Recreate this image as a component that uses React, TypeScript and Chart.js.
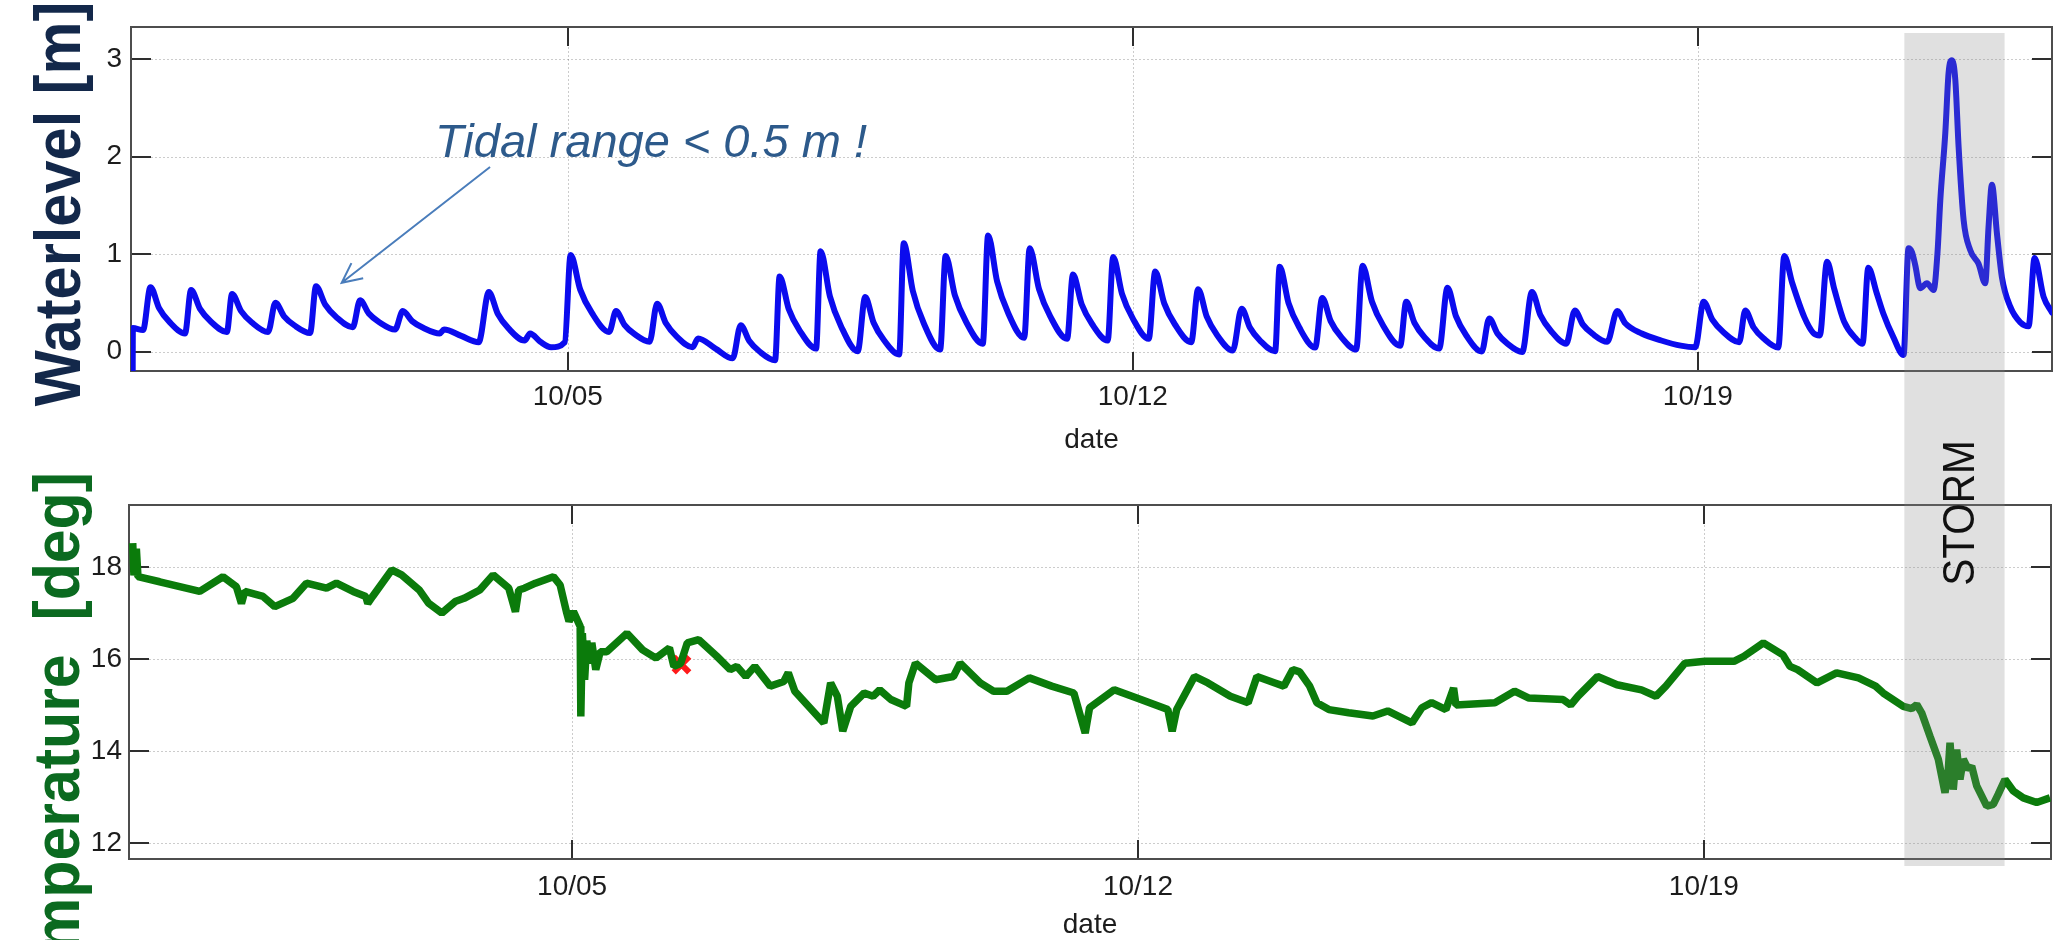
import React, { useEffect, useRef } from "react";
import { Chart, registerables } from "chart.js";

Chart.register(...registerables);

// ---------------- data ----------------
const dateTickValues = [5, 12, 19];
const dateTickLabels = ["10/05", "10/12", "10/19"];
const waterTickValues = [0, 1, 2, 3];
const tempTickValues = [12, 14, 16, 18];

// days of October (fractional), water level in m
const waterDays = [
  -0.39, -0.388, -0.262, -0.17, -0.063, 0.065, 0.258, 0.333, 0.444, 0.577, 0.776, 0.841, 0.953, 1.086,
  1.287, 1.378, 1.485, 1.614, 1.807, 1.881, 1.995, 2.131, 2.336, 2.427, 2.535, 2.665, 2.86, 2.956,
  3.071, 3.208, 3.414, 3.467, 3.68, 3.896, 4.022, 4.133, 4.266, 4.465, 4.533, 4.66, 4.793, 4.963,
  5.035, 5.154, 5.297, 5.512, 5.598, 5.702, 5.826, 6.013, 6.106, 6.216, 6.347, 6.545, 6.614, 6.83,
  7.043, 7.142, 7.249, 7.376, 7.568, 7.624, 7.737, 7.873, 8.076, 8.132, 8.247, 8.385, 8.592, 8.684,
  8.789, 8.916, 9.105, 9.162, 9.275, 9.41, 9.613, 9.681, 9.796, 9.934, 10.141, 10.207, 10.319, 10.453,
  10.654, 10.722, 10.838, 10.977, 11.186, 11.258, 11.366, 11.495, 11.689, 11.756, 11.866, 11.999,
  12.197, 12.277, 12.389, 12.522, 12.723, 12.809, 12.916, 13.045, 13.238, 13.348, 13.452, 13.576,
  13.763, 13.819, 13.929, 14.061, 14.259, 14.346, 14.451, 14.578, 14.767, 14.846, 14.963, 15.102,
  15.312, 15.387, 15.489, 15.611, 15.795, 15.898, 16.004, 16.131, 16.322, 16.415, 16.517, 16.64,
  16.824, 16.944, 17.05, 17.178, 17.369, 17.476, 17.576, 17.697, 17.877, 18.001, 18.1, 18.304,
  18.546, 18.788, 18.967, 19.071, 19.181, 19.314, 19.512, 19.587, 19.689, 19.812, 19.996, 20.07,
  20.17, 20.32, 20.43, 20.51, 20.6, 20.69, 20.81, 20.96, 21.04, 21.111, 21.215, 21.297, 21.42, 21.548,
  21.61, 21.652, 21.693, 21.755, 21.838, 21.92, 21.969, 22.003, 22.065, 22.106, 22.148, 22.189, 22.23,
  22.292, 22.374, 22.477, 22.56, 22.601, 22.643, 22.705, 22.767, 22.87, 22.994, 23.097, 23.171,
  23.283, 23.387,
];
const waterLevels = [
  -0.2, 0.24, 0.22, 0.66, 0.446, 0.304, 0.185, 0.63, 0.437, 0.308, 0.2, 0.59, 0.415, 0.298,
  0.2, 0.5, 0.361, 0.268, 0.19, 0.67, 0.481, 0.355, 0.25, 0.525, 0.39, 0.301, 0.226, 0.415,
  0.312, 0.243, 0.185, 0.225, 0.16, 0.096, 0.61, 0.386, 0.237, 0.113, 0.185, 0.1, 0.044, 0.096,
  0.99, 0.635, 0.398, 0.2, 0.415, 0.273, 0.179, 0.1, 0.49, 0.289, 0.156, 0.044, 0.134, 0.03,
  -0.07, 0.27, 0.108, 0.0, -0.09, 0.77, 0.437, 0.215, 0.03, 1.03, 0.568, 0.26, 0.003, 0.56,
  0.295, 0.118, -0.03, 1.11, 0.62, 0.29, 0.02, 0.98, 0.575, 0.305, 0.08, 1.19, 0.718, 0.4,
  0.14, 1.06, 0.64, 0.36, 0.13, 0.79, 0.485, 0.282, 0.113, 0.97, 0.592, 0.34,
  0.13, 0.82, 0.494, 0.277, 0.096, 0.64, 0.357, 0.168, 0.01, 0.44, 0.243, 0.112,
  0.003, 0.87, 0.497, 0.248, 0.04, 0.55, 0.312, 0.153, 0.02, 0.88, 0.511, 0.265,
  0.06, 0.51, 0.294, 0.15, 0.03, 0.655, 0.36, 0.164, 0.0, 0.34, 0.185, 0.081,
  -0.005, 0.61, 0.372, 0.213, 0.08, 0.42, 0.276, 0.18, 0.1, 0.415, 0.29, 0.185,
  0.113, 0.06, 0.044, 0.51, 0.324, 0.2, 0.096, 0.42, 0.249, 0.135, 0.04, 0.98,
  0.7, 0.35, 0.19, 0.165, 0.92, 0.64, 0.31, 0.13, 0.08, 0.86, 0.6, 0.39, 0.15, -0.035,
  1.06, 1.02, 0.885, 0.65, 0.7, 0.63, 1.02, 1.55, 2.24, 2.86, 2.99, 2.79, 2.1,
  1.35, 1.04, 0.9, 0.7, 1.28, 1.71, 1.21, 0.76, 0.46, 0.3, 0.26, 0.96,
  0.56, 0.4,
];

// days of October (fractional), temperature in deg
const tempDays = [
  -0.435, -0.42, -0.39, -0.37, -0.101, 0.394, 0.682, 0.848, 0.91, 0.951, 1.177, 1.322, 1.548, 1.714,
  1.962, 2.085, 2.291, 2.448, 2.473, 2.532, 2.769, 2.891, 3.111, 3.222, 3.388, 3.554, 3.664, 3.858,
  4.023, 4.217, 4.299, 4.34, 4.41, 4.547, 4.769, 4.852, 4.934, 4.962, 5.017, 5.1, 5.108, 5.127,
  5.155, 5.182, 5.21, 5.244, 5.293, 5.348, 5.429, 5.679, 5.872, 6.038, 6.204, 6.259, 6.342, 6.425,
  6.567, 6.79, 6.956, 7.038, 7.149, 7.26, 7.452, 7.619, 7.674, 7.755, 8.114, 8.198, 8.281, 8.348,
  8.447, 8.613, 8.723, 8.806, 8.943, 9.137, 9.166, 9.247, 9.496, 9.717, 9.8, 10.049, 10.214, 10.378,
  10.656, 10.932, 11.207, 11.347, 11.401, 11.706, 12.036, 12.369, 12.423, 12.479, 12.699, 12.865,
  13.142, 13.362, 13.471, 13.694, 13.805, 13.915, 14.0, 14.124, 14.213, 14.362, 14.607, 14.906,
  15.089, 15.389, 15.512, 15.632, 15.809, 15.904, 15.933, 16.415, 16.658, 16.836, 17.257, 17.352,
  17.442, 17.685, 17.925, 18.228, 18.407, 18.53, 18.766, 19.014, 19.372, 19.496, 19.736, 19.978,
  20.065, 20.159, 20.399, 20.642, 20.912, 21.124, 21.219, 21.467, 21.571, 21.633, 21.694, 21.797,
  21.9, 21.983, 22.024, 22.045, 22.085, 22.127, 22.168, 22.209, 22.271, 22.313, 22.375, 22.499,
  22.58, 22.642, 22.725, 22.828, 22.951, 23.117, 23.282,
];
const tempValues = [
  18.52, 17.82, 18.4, 17.79, 17.68, 17.47, 17.79, 17.57, 17.21, 17.47, 17.36, 17.14, 17.32, 17.65,
  17.54, 17.65, 17.47, 17.36, 17.21, 17.36, 17.94, 17.83, 17.5, 17.22, 17.0, 17.25, 17.32, 17.5,
  17.83, 17.54, 17.03, 17.5, 17.54, 17.65, 17.79, 17.61, 17.0, 16.82, 17.03, 16.71, 14.75, 16.56,
  15.55, 16.4, 15.9, 16.35, 15.77, 16.16, 16.16, 16.56, 16.2, 16.02, 16.24, 15.84, 15.9, 16.35,
  16.42, 16.06, 15.77, 15.84, 15.62, 15.84, 15.41, 15.51, 15.7, 15.3, 14.61, 15.48, 15.19, 14.43,
  14.97, 15.26, 15.19, 15.33, 15.12, 14.97, 15.48, 15.91, 15.55, 15.62, 15.91, 15.48, 15.3, 15.3,
  15.59, 15.41, 15.26, 14.39, 14.94, 15.33, 15.12, 14.9, 14.43, 14.9, 15.62, 15.48,
  15.19, 15.05, 15.62, 15.48, 15.41, 15.77, 15.72, 15.41, 15.05, 14.9, 14.83, 14.76,
  14.87, 14.61, 14.94, 15.05, 14.9, 15.37, 15.0, 15.05, 15.3, 15.15, 15.12, 15.0,
  15.19, 15.62, 15.44, 15.33, 15.19, 15.41, 15.91, 15.95, 15.95, 16.06, 16.35, 16.09,
  15.84, 15.77, 15.48, 15.7, 15.59, 15.41, 15.26, 14.97, 14.92, 15.01, 14.83, 14.32,
  13.82, 13.09, 13.6, 14.18, 13.16, 14.03, 13.38, 13.82, 13.6, 13.67, 13.24, 12.8,
  12.84, 13.06, 13.38, 13.13, 12.98, 12.88, 12.98,
];

const flaggedDays = [6.353];
const flaggedTemps = [15.88];

const stormStartDay = 21.48;
const stormEndDay = 22.72;

const waterTitle = "Waterlevel [m]";
const tempTitle = "Temperature  [deg]";
const dateTitle = "date";
const stormLabel = "STORM";
const tidalNote = "Tidal range < 0.5 m !";
const tidalNoteAt = [3.356, 2.0];
const tidalArrowFrom = [4.037, 1.893];
const tidalArrowTo = [2.199, 0.705];

// ---------------- styling helpers ----------------
const FONT = '"Liberation Sans", Arial, Helvetica, sans-serif';

const framePlugin = {
  id: "matlabFrame",
  beforeDatasetsDraw(chart: any) {
    const { ctx, chartArea: a, scales } = chart;
    const x = scales.x;
    const y = scales.y;
    ctx.save();
    // dotted grid
    ctx.strokeStyle = "rgba(0,0,0,0.2)";
    ctx.lineWidth = 1;
    ctx.setLineDash([2, 2]);
    y.ticks.forEach((t: any) => {
      const py = Math.round(y.getPixelForValue(t.value)) + 0.5;
      ctx.beginPath();
      ctx.moveTo(a.left, py);
      ctx.lineTo(a.right, py);
      ctx.stroke();
    });
    x.ticks.forEach((t: any) => {
      const px = Math.round(x.getPixelForValue(t.value)) + 0.5;
      ctx.beginPath();
      ctx.moveTo(px, a.top);
      ctx.lineTo(px, a.bottom);
      ctx.stroke();
    });
    ctx.setLineDash([]);
    // inward tick marks on all four sides
    ctx.strokeStyle = "#2e2e2e";
    ctx.lineWidth = 2;
    y.ticks.forEach((t: any) => {
      const py = Math.round(y.getPixelForValue(t.value));
      ctx.beginPath();
      ctx.moveTo(a.left, py);
      ctx.lineTo(a.left + 20, py);
      ctx.moveTo(a.right - 20, py);
      ctx.lineTo(a.right, py);
      ctx.stroke();
    });
    x.ticks.forEach((t: any) => {
      const px = Math.round(x.getPixelForValue(t.value));
      ctx.beginPath();
      ctx.moveTo(px, a.bottom);
      ctx.lineTo(px, a.bottom - 19);
      ctx.moveTo(px, a.top);
      ctx.lineTo(px, a.top + 19);
      ctx.stroke();
    });
    // box
    ctx.strokeStyle = "#4d4d4d";
    ctx.lineWidth = 2;
    ctx.strokeRect(a.left, a.top, a.right - a.left, a.bottom - a.top);
    ctx.restore();
  },
};

const waterNotesPlugin = {
  id: "waterNotes",
  afterDatasetsDraw(chart: any) {
    const { ctx, chartArea: a, scales } = chart;
    const x = scales.x;
    const y = scales.y;
    ctx.save();
    // y-axis title
    ctx.save();
    ctx.translate(a.left - 51, (a.top + a.bottom) / 2 + 5);
    ctx.rotate(-Math.PI / 2);
    ctx.scale(0.93, 1);
    ctx.font = `bold 64px ${FONT}`;
    ctx.fillStyle = "#13284a";
    ctx.textAlign = "center";
    ctx.textBaseline = "alphabetic";
    ctx.fillText(waterTitle, 0, 0);
    ctx.restore();
    // note text
    ctx.font = `italic 47px ${FONT}`;
    ctx.fillStyle = "#2d5a8b";
    ctx.textAlign = "left";
    ctx.textBaseline = "alphabetic";
    ctx.fillText(tidalNote, x.getPixelForValue(tidalNoteAt[0]), y.getPixelForValue(tidalNoteAt[1]));
    // arrow
    const x0 = x.getPixelForValue(tidalArrowFrom[0]);
    const y0 = y.getPixelForValue(tidalArrowFrom[1]);
    const x1 = x.getPixelForValue(tidalArrowTo[0]);
    const y1 = y.getPixelForValue(tidalArrowTo[1]);
    const ang = Math.atan2(y0 - y1, x0 - x1);
    ctx.strokeStyle = "#4a7dbb";
    ctx.lineWidth = 2;
    ctx.beginPath();
    ctx.moveTo(x0, y0);
    ctx.lineTo(x1, y1);
    const L = 22;
    const spread = 0.45;
    ctx.moveTo(x1 + L * Math.cos(ang - spread), y1 + L * Math.sin(ang - spread));
    ctx.lineTo(x1, y1);
    ctx.lineTo(x1 + L * Math.cos(ang + spread), y1 + L * Math.sin(ang + spread));
    ctx.stroke();
    ctx.restore();
  },
};

const tempNotesPlugin = {
  id: "tempNotes",
  afterDatasetsDraw(chart: any) {
    const { ctx, chartArea: a, scales } = chart;
    const x = scales.x;
    ctx.save();
    // y-axis title (runs off the bottom of the page)
    ctx.save();
    ctx.translate(a.left - 50, a.top - 33);
    ctx.rotate(-Math.PI / 2);
    ctx.scale(0.95, 1);
    ctx.font = `bold 64px ${FONT}`;
    ctx.fillStyle = "#0b6a20";
    ctx.textAlign = "right";
    ctx.textBaseline = "alphabetic";
    ctx.fillText(tempTitle, 0, 0);
    ctx.restore();
    // storm band across both panels
    const bx0 = x.getPixelForValue(stormStartDay);
    const bx1 = x.getPixelForValue(stormEndDay);
    ctx.fillStyle = "rgba(135,135,135,0.26)";
    ctx.fillRect(bx0, 33, bx1 - bx0, a.bottom + 7 - 33);
    // storm label
    ctx.save();
    ctx.translate((bx0 + bx1) / 2 + 20, a.top + 8);
    ctx.rotate(-Math.PI / 2);
    ctx.scale(0.9, 1);
    ctx.font = `45px ${FONT}`;
    ctx.fillStyle = "#111111";
    ctx.textAlign = "center";
    ctx.textBaseline = "alphabetic";
    ctx.fillText(stormLabel, 0, 0);
    ctx.restore();
    ctx.restore();
  },
};

const tickFont = { family: FONT, size: 28 };

function dateAxis(min: number, max: number, height: number, tickPad: number, titlePad: number) {
  return {
    type: "linear",
    min,
    max,
    afterBuildTicks: (s: any) => {
      s.ticks = dateTickValues.map((v) => ({ value: v }));
    },
    afterFit: (s: any) => {
      s.height = height;
    },
    ticks: {
      autoSkip: false,
      maxRotation: 0,
      padding: tickPad,
      font: tickFont,
      color: "#1c1c1c",
      callback: (v: any) => {
        const i = dateTickValues.indexOf(Number(v));
        return i >= 0 ? dateTickLabels[i] : "";
      },
    },
    grid: { display: false, drawTicks: false },
    border: { display: false },
    title: {
      display: true,
      text: dateTitle,
      color: "#1c1c1c",
      font: { family: FONT, size: 28, lineHeight: 1 },
      padding: { top: 0, bottom: titlePad },
    },
  };
}

function valueAxis(min: number, max: number, ticks: number[], width: number, pad: number) {
  return {
    type: "linear",
    min,
    max,
    afterBuildTicks: (s: any) => {
      s.ticks = ticks.map((v) => ({ value: v }));
    },
    afterFit: (s: any) => {
      s.width = width;
    },
    ticks: { padding: pad, font: tickFont, color: "#1c1c1c" },
    grid: { display: false, drawTicks: false },
    border: { display: false },
  };
}

export default function App() {
  const topRef = useRef<HTMLCanvasElement>(null);
  const botRef = useRef<HTMLCanvasElement>(null);

  useEffect(() => {
    const topChart = new Chart(topRef.current as HTMLCanvasElement, {
      type: "line",
      data: {
        datasets: [
          {
            data: waterDays.map((d, i) => ({ x: d, y: waterLevels[i] })),
            borderColor: "#0b0bee",
            borderWidth: 6,
            pointRadius: 0,
            cubicInterpolationMode: "monotone",
            borderJoinStyle: "round",
            borderCapStyle: "round",
          },
        ],
      },
      options: {
        responsive: false,
        animation: false,
        devicePixelRatio: 1,
        layout: { autoPadding: false, padding: { left: 0, right: 13, top: 27, bottom: 0 } },
        plugins: { legend: { display: false }, tooltip: { enabled: false } },
        scales: {
          x: dateAxis(-0.411, 23.387, 99, 9, 16),
          y: valueAxis(-0.2, 3.33, waterTickValues, 131, 9),
        },
      } as any,
      plugins: [framePlugin, waterNotesPlugin],
    } as any);

    const botChart = new Chart(botRef.current as HTMLCanvasElement, {
      type: "line",
      data: {
        datasets: [
          {
            data: tempDays.map((d, i) => ({ x: d, y: tempValues[i] })),
            borderColor: "#0b7b0b",
            borderWidth: 7.5,
            pointRadius: 0,
            tension: 0,
            borderJoinStyle: "bevel",
          },
          {
            data: flaggedDays.map((d, i) => ({ x: d, y: flaggedTemps[i] })),
            showLine: false,
            pointStyle: "crossRot",
            pointRadius: 11,
            pointBorderWidth: 6,
            pointBorderColor: "#ff1a1a",
            pointBackgroundColor: "#ff1a1a",
            borderColor: "#ff1a1a",
          },
        ],
      },
      options: {
        responsive: false,
        animation: false,
        devicePixelRatio: 1,
        layout: { autoPadding: false, padding: { left: 0, right: 14, top: 505, bottom: 0 } },
        plugins: { legend: { display: false }, tooltip: { enabled: false } },
        scales: {
          x: dateAxis(-0.481, 23.294, 81, 11, 1),
          y: valueAxis(11.65, 19.35, tempTickValues, 129, 7),
        },
      } as any,
      plugins: [framePlugin, tempNotesPlugin],
    } as any);

    return () => {
      topChart.destroy();
      botChart.destroy();
    };
  }, []);

  return (
    <div
      style={{
        position: "fixed",
        left: 0,
        top: 0,
        width: 2065,
        height: 940,
        overflow: "hidden",
        background: "#ffffff",
      }}
    >
      <canvas ref={topRef} width={2065} height={470} style={{ position: "absolute", left: 0, top: 0 }} />
      <canvas ref={botRef} width={2065} height={940} style={{ position: "absolute", left: 0, top: 0 }} />
    </div>
  );
}
